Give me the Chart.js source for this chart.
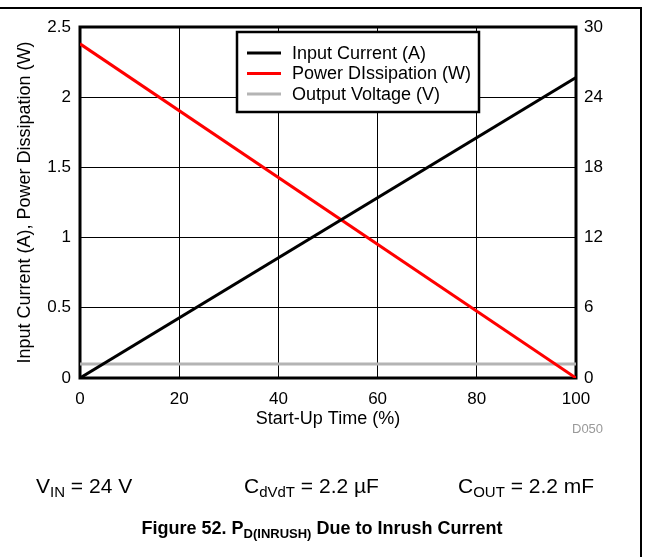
<!DOCTYPE html>
<html>
<head>
<meta charset="utf-8">
<script src="https://cdn.jsdelivr.net/npm/chart.js@4/dist/chart.umd.min.js"></script>
<style>
  body { margin: 0; background: #fff; font-family: "Liberation Sans", Arial, sans-serif; }
  #wrap { position: relative; width: 648px; height: 557px; overflow: hidden; }
  #wrap canvas { position: absolute; left: 0; top: 0; }
  .frame-top { position: absolute; left: 0; top: 7px; width: 642px; height: 2px; background: #000; }
  .frame-right { position: absolute; left: 640px; top: 7px; width: 2px; height: 550px; background: #000; }
  .txt { position: absolute; white-space: nowrap; color: #000; }
  .cond { font-size: 21px; top: 474px; }
  .cond sub { font-size: 15px; vertical-align: -4px; line-height: 0; }
  .code { font-size: 13px; color: #999; left: 572px; top: 421px; }
  .caption { font-size: 18px; font-weight: bold; top: 518px; left: 0; width: 644px; text-align: center; }
  .caption sub { font-size: 13px; vertical-align: -4px; line-height: 0; }
</style>
</head>
<body>
<div id="wrap">
  <canvas id="chart" width="648" height="557"></canvas>
  <div class="frame-top"></div>
  <div class="frame-right"></div>
  <div class="txt code">D050</div>
  <div class="txt cond" style="left:36px">V<sub>IN</sub> = 24 V</div>
  <div class="txt cond" style="left:244px">C<sub>dVdT</sub> = 2.2 µF</div>
  <div class="txt cond" style="left:458px">C<sub>OUT</sub> = 2.2 mF</div>
  <div class="txt caption">Figure 52. P<sub>D(INRUSH)</sub> Due to Inrush Current</div>
</div>
<script>
// start-up time in %
const startUpTime = [0, 100];
// left axis values
const inputCurrent = [0, 2.14];
const powerDissipation = [2.38, 0];
// right axis value (V)
const outputVoltage = [1.2, 1.2];

const leftTicks = [0, 0.5, 1, 1.5, 2, 2.5];
const rightTicks = [0, 6, 12, 18, 24, 30];

const FONT = "'Liberation Sans', Arial, sans-serif";

function toPoints(xs, ys) {
    return xs.map((x, i) => ({ x: x, y: ys[i] }));
}

// legend box drawn inside the plot
const legendBox = {
    id: 'legendBox',
    afterDraw(chart) {
        const ctx = chart.ctx;
        const x0 = 237, y0 = 32, w = 242, h = 80;
        ctx.save();
        ctx.fillStyle = '#fff';
        ctx.fillRect(x0, y0, w, h);
        ctx.lineWidth = 2.5;
        ctx.strokeStyle = '#000';
        ctx.strokeRect(x0, y0, w, h);
        ctx.font = '18px ' + FONT;
        ctx.textBaseline = 'middle';
        ctx.fillStyle = '#000';
        chart.data.datasets.forEach((ds, i) => {
            const y = 53 + i * 20.5;
            ctx.beginPath();
            ctx.strokeStyle = ds.borderColor;
            ctx.lineWidth = 3;
            ctx.moveTo(247, y);
            ctx.lineTo(281, y);
            ctx.stroke();
            ctx.fillText(ds.label, 292, y + 1);
        });
        ctx.restore();
    }
};

// thick frame round the plot area
const plotFrame = {
    id: 'plotFrame',
    beforeDatasetsDraw(chart) {
        const a = chart.chartArea;
        const ctx = chart.ctx;
        ctx.save();
        ctx.lineWidth = 3;
        ctx.strokeStyle = '#000';
        ctx.strokeRect(a.left, a.top, a.right - a.left, a.bottom - a.top);
        ctx.restore();
    }
};

const ctx = document.getElementById('chart').getContext('2d');
new Chart(ctx, {
    type: 'line',
    data: {
        datasets: [{
            label: 'Input Current (A)',
            data: toPoints(startUpTime, inputCurrent),
            borderColor: '#000000',
            borderWidth: 3,
            yAxisID: 'y'
        }, {
            label: 'Power DIssipation (W)',
            data: toPoints(startUpTime, powerDissipation),
            borderColor: '#ff0000',
            borderWidth: 3,
            yAxisID: 'y'
        }, {
            label: 'Output Voltage (V)',
            data: toPoints(startUpTime, outputVoltage),
            borderColor: '#b4b4b4',
            borderWidth: 3,
            yAxisID: 'y1'
        }]
    },
    options: {
        responsive: false,
        animation: false,
        events: [],
        layout: { padding: { left: 0, right: 0, top: 27, bottom: 127 } },
        elements: { point: { radius: 0 }, line: { tension: 0 } },
        plugins: { legend: { display: false }, tooltip: { enabled: false } },
        scales: {
            x: {
                type: 'linear',
                min: 0,
                max: 100,
                afterFit: s => { s.height = 52; },
                grid: { color: '#000', lineWidth: 1, drawTicks: false },
                border: { display: false },
                ticks: { stepSize: 20, padding: 11, color: '#000', font: { family: FONT, size: 17 } },
                title: { display: true, text: 'Start-Up Time (%)', color: '#000', padding: { top: 0, bottom: 0 }, font: { family: FONT, size: 18 } }
            },
            y: {
                position: 'left',
                min: 0,
                max: 2.5,
                afterFit: s => { s.width = 80; },
                afterBuildTicks: s => { s.ticks = leftTicks.map(v => ({ value: v })); },
                grid: { color: '#000', lineWidth: 1, drawTicks: false },
                border: { display: false },
                ticks: { padding: 9, color: '#000', font: { family: FONT, size: 17 }, callback: v => String(v) },
                title: { display: true, text: 'Input Current (A), Power Dissipation (W)', color: '#000', padding: { top: 14, bottom: 0 }, font: { family: FONT, size: 18 } }
            },
            y1: {
                position: 'right',
                min: 0,
                max: 30,
                afterFit: s => { s.width = 72; },
                afterBuildTicks: s => { s.ticks = rightTicks.map(v => ({ value: v })); },
                grid: { display: false, drawTicks: false },
                border: { display: false },
                ticks: { padding: 8, color: '#000', font: { family: FONT, size: 17 }, callback: v => String(v) }
            }
        }
    },
    plugins: [plotFrame, legendBox]
});
</script>
</body>
</html>
